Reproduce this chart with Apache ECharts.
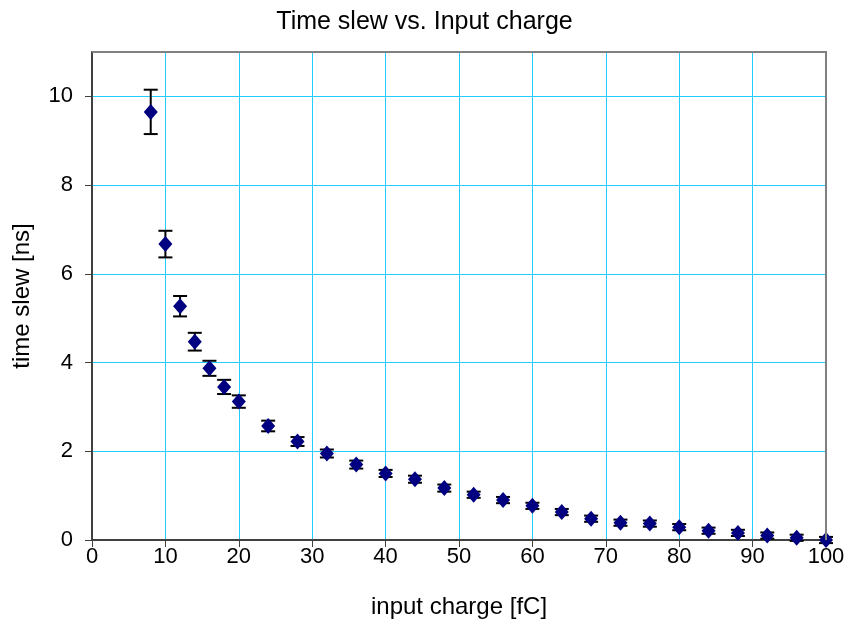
<!DOCTYPE html>
<html><head><meta charset="utf-8">
<script src="https://cdn.jsdelivr.net/npm/echarts@6/dist/echarts.min.js"></script>
<style>html,body{margin:0;padding:0;background:#fff}#c{width:849px;height:632px}</style>
</head><body><div id="c"></div>
<script>
const charge = [8,10,12,14,16,18,20,24,28,32,36,40,44,48,52,56,60,64,68,72,76,80,84,88,92,96,100];
const slew   = [9.65,6.67,5.27,4.47,3.87,3.45,3.12,2.57,2.22,1.95,1.70,1.50,1.37,1.17,1.02,0.90,0.77,0.63,0.48,0.39,0.37,0.29,0.21,0.16,0.10,0.05,0.00];
const slewErr= [0.50,0.30,0.23,0.20,0.17,0.16,0.14,0.12,0.10,0.09,0.09,0.08,0.08,0.08,0.07,0.07,0.07,0.07,0.07,0.07,0.07,0.07,0.07,0.07,0.07,0.07,0.07];
const xTicks = [0,10,20,30,40,50,60,70,80,90,100];
const yTicks = [0,2,4,6,8,10];

const font = 'Liberation Sans, Arial, sans-serif';
const chart = echarts.init(document.getElementById('c'));
const errData = charge.map((x,i)=>[x, slew[i]-slewErr[i], slew[i]+slewErr[i]]);
chart.setOption({
  animation:false,
  title:{text:'Time slew vs. Input charge',left:'center',top:5,textStyle:{fontFamily:font,fontSize:25,fontWeight:'normal',color:'#000'}},
  grid:{left:92,right:23,top:52,bottom:92,show:false,containLabel:false,outerBoundsMode:'none'},
  xAxis:{type:'value',min:xTicks[0],max:xTicks[xTicks.length-1],interval:10,
    name:'input charge [fC]',nameLocation:'middle',nameGap:55,
    nameTextStyle:{fontFamily:font,fontSize:24,color:'#000'},
    axisLine:{onZero:false,lineStyle:{color:'#404040',width:2}},
    axisTick:{show:true,length:7,lineStyle:{color:'#404040',width:1}},
    axisLabel:{fontFamily:font,fontSize:22,color:'#000',margin:6},
    splitLine:{show:true,lineStyle:{color:'#22ccff',width:1}}},
  yAxis:{type:'value',min:0,max:11,interval:2,
    name:'time slew [ns]',nameLocation:'middle',nameGap:58,nameRotate:90,
    nameTextStyle:{fontFamily:font,fontSize:24,color:'#000'},
    axisLine:{show:true,onZero:false,lineStyle:{color:'#404040',width:2}},
    axisTick:{show:true,length:7,lineStyle:{color:'#404040',width:1},customValues:yTicks},
    axisLabel:{fontFamily:font,fontSize:22,color:'#000',margin:19,customValues:yTicks},
    splitLine:{show:true,lineStyle:{color:'#22ccff',width:1}}},
  graphic:[
    {type:'polyline',z:100,shape:{points:[[92,52],[826,52],[826,540]]},style:{stroke:'#808080',lineWidth:2,fill:null}}
  ],
  series:[
    {type:'custom',data:errData,z:3,
      renderItem:(params,api)=>{
        const x=api.value(0);
        const lo=api.coord([x,api.value(1)]);
        const hi=api.coord([x,api.value(2)]);
        const w=7;
        const st={stroke:'#000',lineWidth:2};
        return {type:'group',children:[
          {type:'line',shape:{x1:lo[0],y1:lo[1],x2:hi[0],y2:hi[1]},style:st},
          {type:'line',shape:{x1:lo[0]-w,y1:lo[1],x2:lo[0]+w,y2:lo[1]},style:st},
          {type:'line',shape:{x1:hi[0]-w,y1:hi[1],x2:hi[0]+w,y2:hi[1]},style:st}
        ]};
      }},
    {type:'scatter',data:charge.map((x,i)=>[x,slew[i]]),symbol:'diamond',symbolSize:[14,16],z:4,
      itemStyle:{color:'#000080',opacity:1}}
  ]
});
</script></body></html>
